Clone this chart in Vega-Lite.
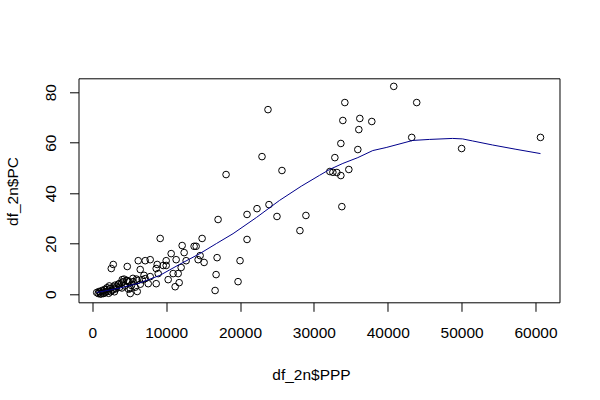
{
  "$schema": "https://vega.github.io/schema/vega-lite/v6.json",
  "autosize": "none",
  "width": 481,
  "height": 224,
  "padding": {"left": 78.5, "top": 78.3, "right": 40, "bottom": 97},
  "background": "white",
  "config": {
    "view": {"stroke": "black", "strokeWidth": 1},
    "font": "Liberation Sans"
  },
  "datasets": {
    "pts": [
      {"PPP": 23784, "PC": 73.1}, {"PPP": 22973, "PC": 54.5}, {"PPP": 25676, "PC": 49.0},
      {"PPP": 18108, "PC": 47.4}, {"PPP": 17027, "PC": 29.6}, {"PPP": 20946, "PC": 31.6},
      {"PPP": 22297, "PC": 33.9}, {"PPP": 23919, "PC": 35.5}, {"PPP": 25000, "PC": 30.8},
      {"PPP": 28919, "PC": 31.2}, {"PPP": 28108, "PC": 25.2}, {"PPP": 20946, "PC": 21.7},
      {"PPP": 9189, "PC": 22.1}, {"PPP": 14865, "PC": 22.1}, {"PPP": 12162, "PC": 19.3},
      {"PPP": 13784, "PC": 19.0}, {"PPP": 14054, "PC": 19.0}, {"PPP": 10676, "PC": 16.1},
      {"PPP": 12432, "PC": 16.5}, {"PPP": 14595, "PC": 15.3}, {"PPP": 11351, "PC": 13.7},
      {"PPP": 12703, "PC": 13.3}, {"PPP": 14324, "PC": 13.7}, {"PPP": 15135, "PC": 12.6},
      {"PPP": 16892, "PC": 14.5}, {"PPP": 20000, "PC": 13.3}, {"PPP": 16757, "PC": 7.8},
      {"PPP": 19730, "PC": 5.0}, {"PPP": 16622, "PC": 1.5}, {"PPP": 2838, "PC": 11.8},
      {"PPP": 2568, "PC": 10.2}, {"PPP": 4730, "PC": 11.0}, {"PPP": 6216, "PC": 13.3},
      {"PPP": 7162, "PC": 13.3}, {"PPP": 7838, "PC": 13.7}, {"PPP": 6486, "PC": 9.8},
      {"PPP": 8784, "PC": 11.8}, {"PPP": 9595, "PC": 11.4}, {"PPP": 10000, "PC": 11.4},
      {"PPP": 10000, "PC": 13.3}, {"PPP": 8649, "PC": 10.2}, {"PPP": 12027, "PC": 10.6},
      {"PPP": 8919, "PC": 8.2}, {"PPP": 10946, "PC": 8.2}, {"PPP": 11622, "PC": 8.2},
      {"PPP": 10270, "PC": 5.8}, {"PPP": 11757, "PC": 4.6}, {"PPP": 11216, "PC": 3.0},
      {"PPP": 7838, "PC": 7.0}, {"PPP": 8649, "PC": 4.2}, {"PPP": 7568, "PC": 4.2},
      {"PPP": 6757, "PC": 5.8}, {"PPP": 7162, "PC": 6.2}, {"PPP": 6081, "PC": 5.4},
      {"PPP": 5541, "PC": 5.0}, {"PPP": 5135, "PC": 2.3}, {"PPP": 5135, "PC": 0.3},
      {"PPP": 6081, "PC": 1.1}, {"PPP": 4054, "PC": 5.8}, {"PPP": 4730, "PC": 5.4},
      {"PPP": 5000, "PC": 5.0},
      {"PPP": 40811, "PC": 82.3}, {"PPP": 34189, "PC": 75.9}, {"PPP": 43919, "PC": 75.9},
      {"PPP": 33919, "PC": 68.8}, {"PPP": 36216, "PC": 69.6}, {"PPP": 37838, "PC": 68.4},
      {"PPP": 36081, "PC": 65.2}, {"PPP": 33649, "PC": 59.7}, {"PPP": 43243, "PC": 62.1},
      {"PPP": 60676, "PC": 62.1}, {"PPP": 50000, "PC": 57.7}, {"PPP": 35946, "PC": 57.3},
      {"PPP": 32838, "PC": 54.1}, {"PPP": 34730, "PC": 49.4}, {"PPP": 32162, "PC": 48.6},
      {"PPP": 32568, "PC": 48.3}, {"PPP": 33108, "PC": 48.2}, {"PPP": 33649, "PC": 47.0},
      {"PPP": 33784, "PC": 34.7},
      {"PPP": 595, "PC": 0.7}, {"PPP": 800, "PC": 0.3}, {"PPP": 1041, "PC": 0.9},
      {"PPP": 1200, "PC": 0.2}, {"PPP": 1300, "PC": 1.5}, {"PPP": 1486, "PC": 1.3},
      {"PPP": 1600, "PC": 0.5}, {"PPP": 1800, "PC": 0.8}, {"PPP": 1946, "PC": 1.9},
      {"PPP": 2100, "PC": 1.2}, {"PPP": 2200, "PC": 0.4}, {"PPP": 2392, "PC": 2.3},
      {"PPP": 2500, "PC": 1.0}, {"PPP": 2700, "PC": 1.6}, {"PPP": 2838, "PC": 2.9},
      {"PPP": 3068, "PC": 3.6}, {"PPP": 3200, "PC": 2.2}, {"PPP": 3514, "PC": 4.0},
      {"PPP": 3700, "PC": 2.8}, {"PPP": 3973, "PC": 4.5}, {"PPP": 4189, "PC": 5.0},
      {"PPP": 4400, "PC": 3.3}, {"PPP": 4649, "PC": 5.5}, {"PPP": 4865, "PC": 4.9},
      {"PPP": 3649, "PC": 4.2}, {"PPP": 2900, "PC": 2.0}, {"PPP": 1100, "PC": 0.1},
      {"PPP": 900, "PC": 1.1}, {"PPP": 1700, "PC": 2.0}, {"PPP": 2000, "PC": 2.6},
      {"PPP": 3300, "PC": 3.1}, {"PPP": 4000, "PC": 2.5}, {"PPP": 5800, "PC": 2.8},
      {"PPP": 6500, "PC": 4.0}, {"PPP": 3000, "PC": 1.0}, {"PPP": 2300, "PC": 3.3},
      {"PPP": 1500, "PC": 0.3}, {"PPP": 5300, "PC": 3.5}, {"PPP": 4300, "PC": 6.0},
      {"PPP": 5500, "PC": 6.3}, {"PPP": 6000, "PC": 6.0}, {"PPP": 7000, "PC": 7.5},
      {"PPP": 4900, "PC": 2.0}
    ],
    "fit": [
      {"PPP": 595, "PC": 0.7}, {"PPP": 3743, "PC": 2.5}, {"PPP": 6446, "PC": 4.5},
      {"PPP": 9149, "PC": 7.5}, {"PPP": 11851, "PC": 11.9}, {"PPP": 14554, "PC": 16.1},
      {"PPP": 16811, "PC": 20.1}, {"PPP": 19054, "PC": 24.0}, {"PPP": 22216, "PC": 30.4},
      {"PPP": 25365, "PC": 37.2}, {"PPP": 28297, "PC": 42.8}, {"PPP": 30770, "PC": 47.1},
      {"PPP": 32122, "PC": 49.4}, {"PPP": 33919, "PC": 51.8}, {"PPP": 35946, "PC": 54.1},
      {"PPP": 37973, "PC": 56.9}, {"PPP": 39784, "PC": 58.1}, {"PPP": 43378, "PC": 60.9},
      {"PPP": 45635, "PC": 61.3}, {"PPP": 48784, "PC": 61.7}, {"PPP": 50135, "PC": 61.5},
      {"PPP": 51486, "PC": 60.7}, {"PPP": 54189, "PC": 59.1}, {"PPP": 57351, "PC": 57.4},
      {"PPP": 60676, "PC": 55.7}
    ]
  },
  "layer": [
    {
      "data": {"name": "pts"},
      "mark": {"type": "point", "shape": "circle", "filled": false, "color": "black", "size": 44, "strokeWidth": 1, "opacity": 1},
      "encoding": {
        "x": {
          "field": "PPP", "type": "quantitative",
          "scale": {"domain": [-1870, 63250], "nice": false, "zero": false},
          "axis": {
            "values": [0, 10000, 20000, 30000, 40000, 50000, 60000],
            "format": "d",
            "grid": false, "domain": false,
            "tickColor": "black", "tickSize": 9, "tickWidth": 1,
            "labelColor": "black", "labelFontSize": 15.5, "labelFont": "Liberation Sans",
            "labelPadding": 14, "labelFlush": false, "labelOverlap": false,
            "title": "df_2n$PPP", "titleFontSize": 15.5, "titleFontWeight": "normal",
            "titleFont": "Liberation Sans", "titleColor": "black",
            "titleX": 232.5, "titleY": 77, "titleAlign": "center", "titleBaseline": "alphabetic", "titleAnchor": null
          }
        },
        "y": {
          "field": "PC", "type": "quantitative",
          "scale": {"domain": [-3.17, 85.5], "nice": false, "zero": false},
          "axis": {
            "values": [0, 20, 40, 60, 80],
            "grid": false, "domain": false,
            "tickColor": "black", "tickSize": 9, "tickWidth": 1,
            "labelColor": "black", "labelFontSize": 15.5, "labelFont": "Liberation Sans",
            "labelAngle": -90, "labelAlign": "center", "labelBaseline": "alphabetic",
            "labelPadding": 14, "labelFlush": false, "labelOverlap": false,
            "title": "df_2n$PC", "titleFontSize": 15.5, "titleFontWeight": "normal",
            "titleFont": "Liberation Sans", "titleColor": "black",
            "titleAngle": -90, "titleX": -61.5, "titleY": 112.7, "titleAlign": "center", "titleBaseline": "alphabetic"
          }
        }
      }
    },
    {
      "data": {"name": "fit"},
      "mark": {"type": "line", "color": "#00008B", "strokeWidth": 1},
      "encoding": {
        "x": {"field": "PPP", "type": "quantitative"},
        "y": {"field": "PC", "type": "quantitative"}
      }
    }
  ]
}
